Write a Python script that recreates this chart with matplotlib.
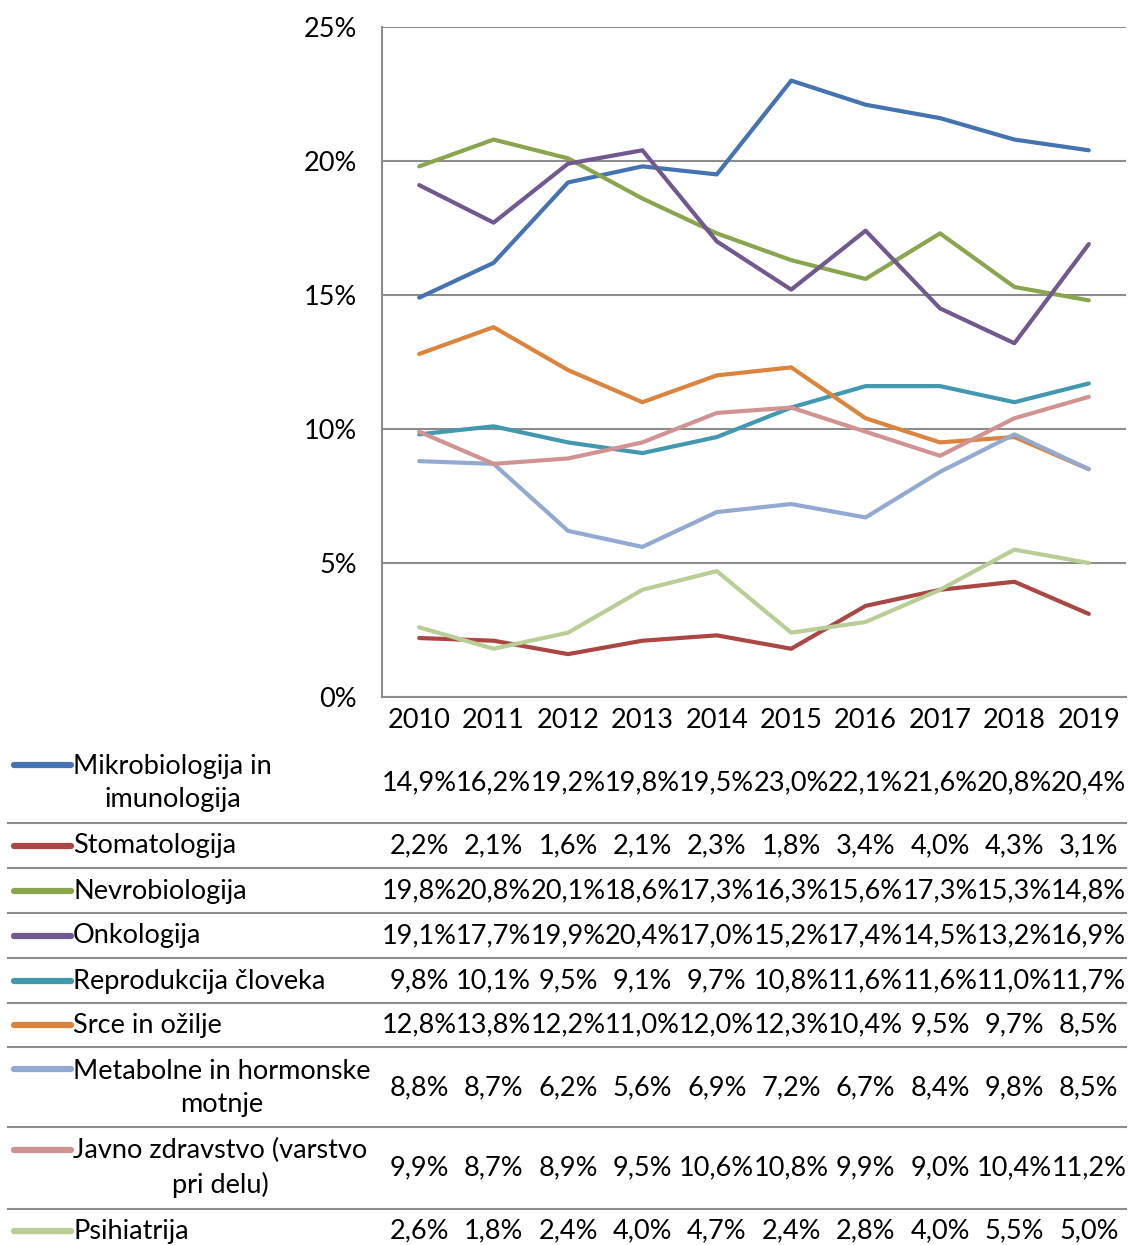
import matplotlib
matplotlib.use("Agg")
import matplotlib.pyplot as plt
import matplotlib.transforms as mtransforms
from matplotlib.lines import Line2D

years = ["2010", "2011", "2012", "2013", "2014", "2015", "2016", "2017", "2018", "2019"]

labels = ["Mikrobiologija in\nimunologija", "Stomatologija", "Nevrobiologija", "Onkologija",
          "Reprodukcija človeka", "Srce in ožilje", "Metabolne in hormonske\nmotnje",
          "Javno zdravstvo (varstvo\npri delu)", "Psihiatrija"]

mikro = [14.9, 16.2, 19.2, 19.8, 19.5, 23.0, 22.1, 21.6, 20.8, 20.4]
stomat = [2.2, 2.1, 1.6, 2.1, 2.3, 1.8, 3.4, 4.0, 4.3, 3.1]
nevro = [19.8, 20.8, 20.1, 18.6, 17.3, 16.3, 15.6, 17.3, 15.3, 14.8]
onko = [19.1, 17.7, 19.9, 20.4, 17.0, 15.2, 17.4, 14.5, 13.2, 16.9]
repro = [9.8, 10.1, 9.5, 9.1, 9.7, 10.8, 11.6, 11.6, 11.0, 11.7]
srce = [12.8, 13.8, 12.2, 11.0, 12.0, 12.3, 10.4, 9.5, 9.7, 8.5]
metab = [8.8, 8.7, 6.2, 5.6, 6.9, 7.2, 6.7, 8.4, 9.8, 8.5]
javno = [9.9, 8.7, 8.9, 9.5, 10.6, 10.8, 9.9, 9.0, 10.4, 11.2]
psih = [2.6, 1.8, 2.4, 4.0, 4.7, 2.4, 2.8, 4.0, 5.5, 5.0]

series = [mikro, stomat, nevro, onko, repro, srce, metab, javno, psih]
colors = ["#4573B1", "#AA4643", "#89A54E", "#71588F", "#4198AF", "#DB843D",
          "#93A9CF", "#D19392", "#B9CD96"]

yticks = [0, 5, 10, 15, 20, 25]

plt.rcParams['font.family'] = ['Lato', 'DejaVu Sans']
FS = 19.5

W, H = 1130, 1245
fig = plt.figure(figsize=(W / 100, H / 100), dpi=100)
ax = fig.add_axes([382 / W, 1 - 697 / H, 744 / W, 670 / H])

x = list(range(len(years)))
for vals, c in zip(series, colors):
    ax.plot(x, vals, color=c, lw=3.0, solid_capstyle='round', solid_joinstyle='round')

ax.set_xlim(-0.5, len(years) - 0.5)
ax.set_ylim(0, 25)
ax.set_yticks(yticks)
ax.set_yticklabels([f"{t}%" for t in yticks], fontsize=FS)
ax.tick_params(axis='y', length=0, pad=18)
ax.set_xticks(x)
ax.set_xticklabels(years, fontsize=FS)
ax.tick_params(axis='x', length=0, pad=8)
ax.yaxis.grid(True, color="#8C8C8C", lw=1.5)
ax.set_axisbelow(True)
for s in ["top", "right"]:
    ax.spines[s].set_visible(False)
for s in ["left", "bottom"]:
    ax.spines[s].set_color("#8C8C8C")
    ax.spines[s].set_linewidth(1.5)

# data table
trans = mtransforms.blended_transform_factory(ax.transData, fig.transFigure)
def fy(px):
    return 1 - px / H

row_centers = [783, 846, 891, 936, 981, 1025, 1088, 1168, 1231]
first_line = [765, 846, 891, 936, 981, 1025, 1069, 1150, 1231]
sep_lines = [823, 868, 913, 958, 1003, 1047, 1127, 1209]

for lab, vals, c, yc, yl in zip(labels, series, colors, row_centers, first_line):
    fig.add_artist(Line2D([14 / W, 71 / W], [fy(yl), fy(yl)], color=c, lw=4.5,
                          solid_capstyle='round', transform=fig.transFigure))
    fig.text(73 / W, fy(yc), lab, ha='left', va='center', multialignment='center',
             fontsize=FS, linespacing=1.38)
    for xi, v in zip(x, vals):
        ax.text(xi, fy(yc), f"{v:.1f}%".replace(".", ","), transform=trans,
                ha='center', va='center', fontsize=FS, clip_on=False)

for yl in sep_lines:
    fig.add_artist(Line2D([8 / W, 1126 / W], [fy(yl), fy(yl)], color="#8C8C8C", lw=1.5,
                          transform=fig.transFigure))

fig.savefig("out.png", dpi=100)
